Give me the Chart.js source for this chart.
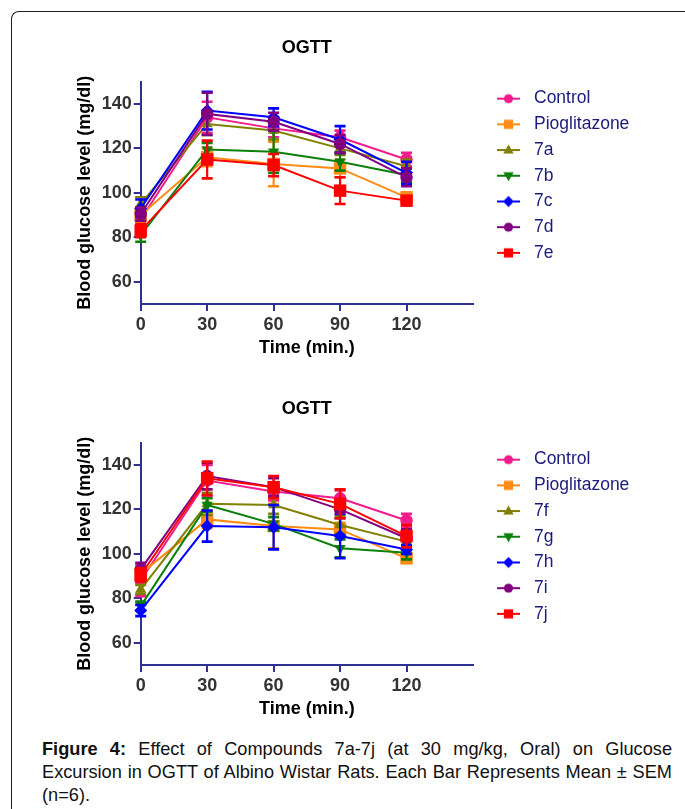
<!DOCTYPE html>
<html>
<head>
<meta charset="utf-8">
<script src="https://cdn.jsdelivr.net/npm/chart.js@4/dist/chart.umd.min.js"></script>
<style>
  html, body { margin: 0; padding: 0; background: #fff; width: 685px; height: 809px; overflow: hidden; }
  #frame { position: absolute; left: 11px; top: 11px; width: 700px; height: 830px;
           border-top: 1.5px solid #1e1e1e; border-left: 1.5px solid #1e1e1e; border-top-left-radius: 8px; }
  canvas { position: absolute; left: 0; }
  #c1 { top: 0px; }
  #c2 { top: 361px; }
  #caption { position: absolute; left: 42px; top: 737.5px; width: 630px; font-family: "Liberation Sans", Arial, sans-serif;
             font-size: 18.2px; line-height: 23px; text-align: justify; color: #111; }
</style>
</head>
<body>
<div id="frame"></div>
<canvas id="c1" width="685" height="360"></canvas>
<canvas id="c2" width="685" height="360"></canvas>
<div id="caption"><b>Figure 4:</b> Effect of Compounds 7a-7j (at 30 mg/kg, Oral) on Glucose Excursion in OGTT of Albino Wistar Rats. Each Bar Represents Mean ± SEM (n=6).</div>
<script>
// ---------------- DATA ----------------
const times = [0, 30, 60, 90, 120];
const xTickValues = [0, 30, 60, 90, 120];
const yTickValues = [60, 80, 100, 120, 140];

// Panel 1
const names1 = ['Control', 'Pioglitazone', '7a', '7b', '7c', '7d', '7e'];
const control1 = [88, 134, 129, 125, 115];
const control1Sem = [4, 7, 4, 3, 3];
const pio1 = [90, 116, 113, 111, 98];
const pio1Sem = [3, 4, 10, 4, 2];
const c7a = [95, 131, 128, 120, 112];
const c7aSem = [3, 5, 4, 3, 3];
const c7b = [81, 119.5, 118.5, 114, 108];
const c7bSem = [3, 3, 9.5, 4, 3];
const c7c = [93, 137, 134, 124, 109];
const c7cSem = [4, 8.5, 4, 6, 5];
const c7d = [90.5, 135.5, 132, 122, 107];
const c7dSem = [3, 9.5, 4, 4, 4];
const c7e = [83, 115, 112.5, 101, 96.5];
const c7eSem = [3, 8.5, 5, 6, 2];

// Panel 2
const names2 = ['Control', 'Pioglitazone', '7f', '7g', '7h', '7i', '7j'];
const control2 = [88, 133, 128, 125, 115];
const control2Sem = [7, 7, 4, 3.5, 3];
const pio2 = [91, 115.5, 112.5, 111, 98];
const pio2Sem = [3, 4, 10, 3, 2];
const c7f = [84, 122.5, 122, 113, 105.5];
const c7fSem = [2, 5, 4, 4, 4];
const c7g = [76.5, 122, 113.5, 102.5, 100.5];
const c7gSem = [2, 3, 3, 4, 3];
const c7h = [74.5, 112.5, 112, 108, 102];
const c7hSem = [2.5, 7, 10, 10, 2];
const c7i = [93, 135, 130, 120, 107];
const c7iSem = [3, 6, 4, 4, 4];
const c7j = [90.5, 134, 130, 122.5, 108];
const c7jSem = [3, 7.5, 5, 6.5, 5];

// ---------------- STYLE ----------------
const seriesColors = ['#f21c8d', '#ff8a14', '#808000', '#0a800a', '#0000ff', '#800080', '#ff0000'];
const seriesMarkers = ['circle', 'rect', 'triangle', 'triangleDown', 'diamond', 'circle', 'rect'];
const FONT = '"Liberation Sans", Arial, sans-serif';
const AXIS = '#2e3192';
const LEG_FONT_SIZE = 17.5, LEG_PAD = 8.2, LEG_BOX = 33.5, GAP = 10.55, PLOT_RIGHT = 473;

function makeIcon(color, marker) {
  const c = document.createElement('canvas');
  c.width = 23; c.height = 14;
  const g = c.getContext('2d');
  g.strokeStyle = color; g.lineWidth = 2;
  g.beginPath(); g.moveTo(0, 7); g.lineTo(23, 7); g.stroke();
  g.fillStyle = color;
  const cx = 11.5, cy = 7;
  g.beginPath();
  if (marker === 'circle') g.arc(cx, cy, 4.6, 0, Math.PI * 2);
  else if (marker === 'rect') g.rect(cx - 4.6, cy - 4.6, 9.2, 9.2);
  else if (marker === 'triangle') { g.moveTo(cx, cy - 5.5); g.lineTo(cx + 5.2, cy + 3.6); g.lineTo(cx - 5.2, cy + 3.6); }
  else if (marker === 'triangleDown') { g.moveTo(cx, cy + 5.5); g.lineTo(cx + 5.2, cy - 3.6); g.lineTo(cx - 5.2, cy - 3.6); }
  else if (marker === 'diamond') { g.moveTo(cx, cy - 5.5); g.lineTo(cx + 5.5, cy); g.lineTo(cx, cy + 5.5); g.lineTo(cx - 5.5, cy); }
  g.closePath(); g.fill();
  return c;
}

function pointStyleFor(marker) {
  if (marker === 'circle') return {pointStyle: 'circle', radius: 6.2, rotation: 0};
  if (marker === 'rect') return {pointStyle: 'rect', radius: 8.8, rotation: 0};
  if (marker === 'triangle') return {pointStyle: 'triangle', radius: 6.5, rotation: 0};
  if (marker === 'triangleDown') return {pointStyle: 'triangle', radius: 6.5, rotation: 180};
  return {pointStyle: 'rectRot', radius: 6.5, rotation: 0};
}

const errorBars = {
  id: 'errorBars',
  beforeDatasetDraw(chart, args) {
    const ds = chart.data.datasets[args.index];
    if (!ds.sem) return;
    const xs = chart.scales.x, ys = chart.scales.y, ctx = chart.ctx;
    ctx.save();
    ctx.strokeStyle = ds.borderColor;
    ds.data.forEach((p, i) => {
      const px = xs.getPixelForValue(p.x);
      const yt = ys.getPixelForValue(p.y + ds.sem[i]);
      const yb = ys.getPixelForValue(p.y - ds.sem[i]);
      ctx.lineWidth = 2.2;
      ctx.beginPath(); ctx.moveTo(px, yt); ctx.lineTo(px, yb); ctx.stroke();
      ctx.lineWidth = 2.6;
      ctx.beginPath();
      ctx.moveTo(px - 5.5, yt); ctx.lineTo(px + 5.5, yt);
      ctx.moveTo(px - 5.5, yb); ctx.lineTo(px + 5.5, yb);
      ctx.stroke();
    });
    ctx.restore();
  }
};

function legendWidthFor(names) {
  const m = document.createElement('canvas').getContext('2d');
  m.font = LEG_FONT_SIZE + 'px ' + FONT;
  const maxText = Math.max(...names.map(n => m.measureText(n).width));
  return LEG_PAD + LEG_BOX + LEG_FONT_SIZE / 2 + maxText + 10;
}

function buildChart(id, names, means, sems) {
  const n = names.length;
  const datasets = names.map((name, i) => {
    const ps = pointStyleFor(seriesMarkers[i]);
    return {
      label: name,
      data: times.map((t, k) => ({x: t, y: means[i][k]})),
      sem: sems[i],
      borderColor: seriesColors[i],
      backgroundColor: seriesColors[i],
      borderWidth: 2,
      pointStyle: ps.pointStyle,
      pointRadius: ps.radius,
      pointRotation: ps.rotation,
      pointBorderWidth: 0,
      pointBackgroundColor: seriesColors[i],
      tension: 0,
      clip: false,
      order: n - i
    };
  });
  const icons = names.map((_, i) => makeIcon(seriesColors[i], seriesMarkers[i]));
  const legW = legendWidthFor(names);
  const padRight = 685 - PLOT_RIGHT - GAP - legW;
  return new Chart(document.getElementById(id), {
    type: 'line',
    data: {datasets},
    plugins: [errorBars],
    options: {
      responsive: false,
      animation: false,
      devicePixelRatio: 1,
      layout: {padding: {top: 0, left: 0, right: padRight, bottom: 1.2}},
      plugins: {
        tooltip: {enabled: false},
        title: {
          display: true, text: 'OGTT', fullSize: false, color: '#000',
          font: {family: FONT, size: 18, weight: 'bold'},
          padding: {top: 37.5, bottom: 22.6}
        },
        legend: {
          display: true, position: 'right', align: 'start', fullSize: false, maxWidth: 1000,
          labels: {
            usePointStyle: true, pointStyleWidth: LEG_BOX, padding: LEG_PAD, color: '#1b1b7d',
            font: {family: FONT, size: LEG_FONT_SIZE},
            generateLabels: (chart) => chart.data.datasets.map((ds, i) => ({
              text: ds.label, pointStyle: icons[i], fontColor: '#1b1b7d',
              fillStyle: 'rgba(0,0,0,0)', strokeStyle: 'rgba(0,0,0,0)', lineWidth: 0,
              hidden: false, datasetIndex: i
            }))
          }
        }
      },
      scales: {
        x: {
          type: 'linear', position: 'bottom', min: 0, max: 150,
          afterBuildTicks: (s) => { s.ticks = xTickValues.map(v => ({value: v})); },
          afterFit: (s) => { s.height = 54.8; },
          grid: {display: true, drawOnChartArea: false, drawTicks: true, tickLength: 7, color: AXIS, lineWidth: 2},
          border: {display: true, color: AXIS, width: 2},
          ticks: {color: '#333', padding: 3, font: {family: FONT, size: 18, weight: 'bold'}, maxRotation: 0, autoSkip: false},
          title: {display: true, text: 'Time (min.)', color: '#000', font: {family: FONT, size: 18, weight: 'bold'}, padding: {top: 0, bottom: 0}}
        },
        y: {
          type: 'linear', position: 'left', min: 50, max: 150,
          afterBuildTicks: (s) => { s.ticks = yTickValues.map(v => ({value: v})); },
          afterFit: (s) => { s.width = 140.7; },
          grid: {display: true, drawOnChartArea: false, drawTicks: true, tickLength: 7, color: AXIS, lineWidth: 2},
          border: {display: true, color: AXIS, width: 2},
          ticks: {color: '#333', padding: 2, font: {family: FONT, size: 18, weight: 'bold'}, autoSkip: false},
          title: {display: true, text: 'Blood glucose level (mg/dl)', color: '#000', font: {family: FONT, size: 18, weight: 'bold'}, padding: {top: 74.2, bottom: 0}}
        },
        gap: {
          type: 'linear', position: 'right', display: true,
          grid: {display: false, drawTicks: false}, border: {display: false}, ticks: {display: false},
          afterFit: (s) => { s.width = GAP; }
        }
      }
    }
  });
}

buildChart('c1', names1,
  [control1, pio1, c7a, c7b, c7c, c7d, c7e],
  [control1Sem, pio1Sem, c7aSem, c7bSem, c7cSem, c7dSem, c7eSem]);
buildChart('c2', names2,
  [control2, pio2, c7f, c7g, c7h, c7i, c7j],
  [control2Sem, pio2Sem, c7fSem, c7gSem, c7hSem, c7iSem, c7jSem]);
</script>
</body>
</html>
